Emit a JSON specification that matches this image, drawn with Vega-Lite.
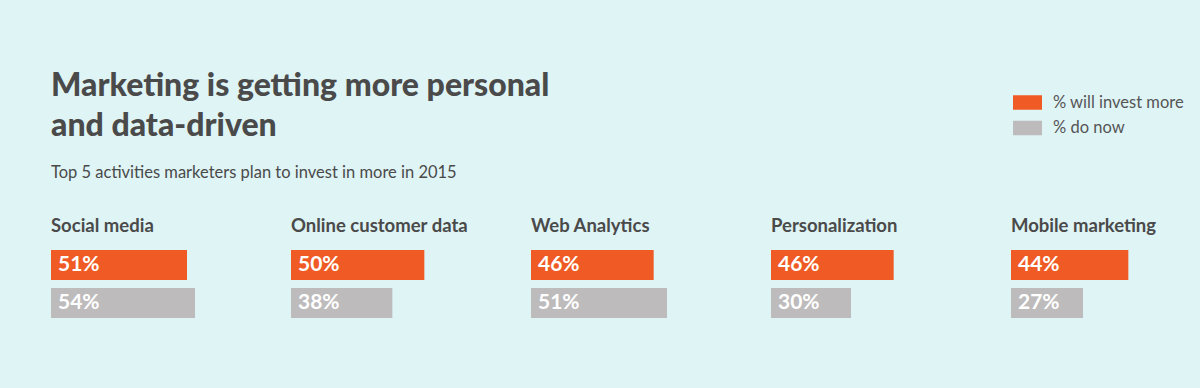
{
  "$schema": "https://vega.github.io/schema/vega-lite/v6.json",
  "background": "#dff4f5",
  "padding": {"left": 51, "top": 69, "right": 0, "bottom": 70},
  "title": {
    "text": ["Marketing is getting more personal", "and data-driven"],
    "subtitle": "Top 5 activities marketers plan to invest in more in 2015",
    "anchor": "start",
    "frame": "group",
    "font": "Lato",
    "fontSize": 32,
    "fontWeight": 900,
    "color": "#4a4a4a",
    "lineHeight": 40,
    "subtitleFont": "Lato",
    "subtitleFontSize": 16.5,
    "subtitleColor": "#4a4a4a",
    "subtitlePadding": 22,
    "offset": -94
  },
  "data": {
    "values": [
      {"activity": "Social media", "series": "% will invest more", "value": 0.51},
      {"activity": "Social media", "series": "% do now", "value": 0.54},
      {"activity": "Online customer data", "series": "% will invest more", "value": 0.50},
      {"activity": "Online customer data", "series": "% do now", "value": 0.38},
      {"activity": "Web Analytics", "series": "% will invest more", "value": 0.46},
      {"activity": "Web Analytics", "series": "% do now", "value": 0.51},
      {"activity": "Personalization", "series": "% will invest more", "value": 0.46},
      {"activity": "Personalization", "series": "% do now", "value": 0.30},
      {"activity": "Mobile marketing", "series": "% will invest more", "value": 0.44},
      {"activity": "Mobile marketing", "series": "% do now", "value": 0.27}
    ]
  },
  "facet": {
    "column": {
      "field": "activity",
      "type": "nominal",
      "sort": ["Social media", "Online customer data", "Web Analytics", "Personalization", "Mobile marketing"],
      "title": null,
      "header": {
        "labelOrient": "top",
        "labelAnchor": "start",
        "labelAlign": "left",
        "labelFont": "Lato",
        "labelFontSize": 18.5,
        "labelFontWeight": "bold",
        "labelColor": "#4a4a4a",
        "labelPadding": 15
      }
    }
  },
  "spacing": 0,
  "spec": {
    "width": 240,
    "height": 68,
    "encoding": {
      "y": {
        "field": "series",
        "type": "nominal",
        "sort": ["% will invest more", "% do now"],
        "axis": null,
        "scale": {"paddingInner": 0.21, "paddingOuter": 0}
      }
    },
    "layer": [
      {
        "mark": {"type": "bar"},
        "encoding": {
          "x": {"field": "value", "type": "quantitative", "scale": {"domain": [0, 0.892]}, "axis": null},
          "color": {
            "field": "series",
            "type": "nominal",
            "sort": ["% will invest more", "% do now"],
            "scale": {"domain": ["% will invest more", "% do now"], "range": ["#f05a24", "#bdbbbb"]},
            "legend": {
              "title": null,
              "orient": "none",
              "legendX": 962,
              "legendY": -162,
              "symbolType": "M-1,-0.5H1V0.5H-1Z",
              "symbolSize": 841,
              "symbolStrokeWidth": 0,
              "labelFont": "Lato",
              "labelFontSize": 16.5,
              "labelColor": "#555555",
              "labelOffset": 11,
              "rowPadding": 2.5,
              "padding": 0
            }
          }
        }
      },
      {
        "mark": {"type": "text", "align": "left", "baseline": "middle", "dx": 7, "color": "white", "font": "Lato", "fontSize": 21, "fontWeight": "bold"},
        "encoding": {
          "x": {"datum": 0, "type": "quantitative"},
          "text": {"field": "value", "type": "quantitative", "format": ".0%"}
        }
      }
    ]
  },
  "config": {"view": {"stroke": null}}
}
